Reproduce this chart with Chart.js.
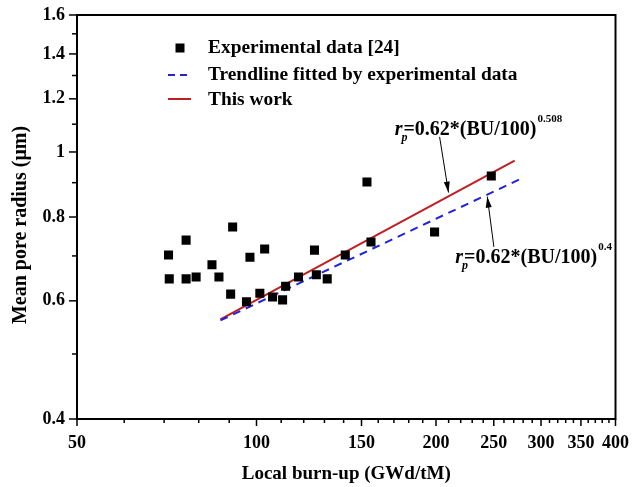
<!DOCTYPE html>
<html>
<head>
<meta charset="utf-8">
<script src="https://cdn.jsdelivr.net/npm/chart.js@4.4.0/dist/chart.umd.min.js"></script>
<style>
  html, body { margin: 0; padding: 0; background: #fff; }
</style>
</head>
<body>
<canvas id="pores" width="635" height="487"></canvas>
<script>
// experimental points (burn-up GWd/tM, mean pore radius um)
const burnup = [71.2, 71.4, 76.2, 76.2, 79.2, 84.2, 86.5, 91.2, 90.5, 97.5, 103.2, 96.2, 101.3,
  106.4, 110.6, 111.9, 117.6, 125.1, 126.0, 131.4, 140.9, 153.2, 155.6, 198.9, 247.6];
const radius = [0.702, 0.647, 0.739, 0.647, 0.651, 0.679, 0.651, 0.773, 0.614, 0.697, 0.717, 0.598, 0.616,
  0.608, 0.602, 0.631, 0.651, 0.714, 0.656, 0.647, 0.702, 0.902, 0.734, 0.760, 0.921];

// line end points
const trendX = [87, 276];
const trendY = [0.561, 0.910];
const modelX = [87, 271];
const modelY = [0.563, 0.971];

const xTicks = [50, 60, 70, 80, 90, 100, 110, 120, 130, 140, 150, 160, 170, 180, 190, 200,
  210, 220, 230, 240, 250, 260, 270, 280, 290, 300, 310, 320, 330, 340, 350, 360, 370, 380, 390, 400];
const xLabels = [50, 100, 150, 200, 250, 300, 350, 400];
const yTicks = [0.4, 0.5, 0.6, 0.7, 0.8, 0.9, 1, 1.1, 1.2, 1.3, 1.4, 1.5, 1.6];
const yLabels = [0.4, 0.6, 0.8, 1, 1.2, 1.4, 1.6];

const legendLabels = ['Experimental data [24]', 'Trendline fitted by experimental data', 'This work'];
const yTitle = 'Mean pore radius (μm)';

// formula labels, positioned in data units
const notes = [
  { x: 170.5, y: 1.060, exp: '0.508', tail: [202.8, 1.053], tip: [209.9, 0.870] },
  { x: 215.5, y: 0.683, exp: '0.4', tail: [250.1, 0.722], tip: [243.8, 0.858] }
];

const BLUE = '#2222dd';
const RED = '#bf1e22';
const SERIF = '"Liberation Serif", "Times New Roman", serif';

const extras = {
  id: 'extras',
  afterDraw(chart) {
    const { ctx, chartArea: { left, top, right, bottom }, scales: { x, y } } = chart;
    ctx.save();
    ctx.strokeStyle = '#000';
    ctx.lineWidth = 1.5;

    xTicks.forEach(v => {
      const px = x.getPixelForValue(v);
      const len = xLabels.includes(v) ? 7 : 4;
      ctx.beginPath();
      ctx.moveTo(px, bottom);
      ctx.lineTo(px, bottom + len);
      ctx.stroke();
    });
    yTicks.forEach(v => {
      const py = y.getPixelForValue(v);
      const len = yLabels.includes(v) ? 8 : 5;
      ctx.beginPath();
      ctx.moveTo(left, py);
      ctx.lineTo(left - len, py);
      ctx.stroke();
    });

    ctx.lineWidth = 2;
    ctx.strokeRect(left, top, right - left, bottom - top);

    // y title, a bit below the middle like the original
    ctx.fillStyle = '#000';
    ctx.save();
    ctx.translate(left - 51, (top + bottom) / 2 + 8);
    ctx.rotate(-Math.PI / 2);
    ctx.font = 'bold 20px ' + SERIF;
    ctx.textAlign = 'center';
    ctx.textBaseline = 'alphabetic';
    ctx.fillText(yTitle, 0, 0);
    ctx.restore();

    // legend
    const lx = left + 91;
    const ly = top + 33;
    ctx.fillRect(lx + 12 - 4.5, ly - 4.5, 9, 9);
    ctx.strokeStyle = BLUE;
    ctx.setLineDash([7, 5]);
    ctx.beginPath();
    ctx.moveTo(lx, ly + 27);
    ctx.lineTo(lx + 23, ly + 27);
    ctx.stroke();
    ctx.setLineDash([]);
    ctx.strokeStyle = RED;
    ctx.beginPath();
    ctx.moveTo(lx, ly + 51);
    ctx.lineTo(lx + 23, ly + 51);
    ctx.stroke();
    ctx.font = 'bold 19.4px ' + SERIF;
    ctx.textBaseline = 'middle';
    legendLabels.forEach((t, i) => {
      ctx.fillText(t, lx + 40, ly + [0, 27, 52][i]);
    });

    // formulas + arrows
    ctx.textBaseline = 'alphabetic';
    notes.forEach(n => {
      let px = x.getPixelForValue(n.x);
      const py = y.getPixelForValue(n.y);
      ctx.font = 'italic bold 20px ' + SERIF;
      ctx.fillText('r', px, py);
      px += ctx.measureText('r').width;
      ctx.font = 'italic bold 12px ' + SERIF;
      ctx.fillText('p', px - 1, py + 6);
      px += 1;
      ctx.font = 'bold 20px ' + SERIF;
      ctx.fillText('=0.62*(BU/100)', px, py);
      px += ctx.measureText('=0.62*(BU/100)').width + 1;
      ctx.font = 'bold 11px ' + SERIF;
      ctx.fillText(n.exp, px, py - 13);

      const x0 = x.getPixelForValue(n.tail[0]), y0 = y.getPixelForValue(n.tail[1]);
      const x1 = x.getPixelForValue(n.tip[0]), y1 = y.getPixelForValue(n.tip[1]);
      ctx.strokeStyle = '#000';
      ctx.lineWidth = 1;
      ctx.beginPath();
      ctx.moveTo(x0, y0);
      ctx.lineTo(x1, y1);
      ctx.stroke();
      const a = Math.atan2(y1 - y0, x1 - x0);
      ctx.beginPath();
      ctx.moveTo(x1, y1);
      ctx.lineTo(x1 - 11 * Math.cos(a) + 3 * Math.sin(a), y1 - 11 * Math.sin(a) - 3 * Math.cos(a));
      ctx.lineTo(x1 - 11 * Math.cos(a) - 3 * Math.sin(a), y1 - 11 * Math.sin(a) + 3 * Math.cos(a));
      ctx.closePath();
      ctx.fill();
    });
    ctx.restore();
  }
};

const tickFont = { family: SERIF, size: 18, weight: 'bold' };
const titleFont = { family: SERIF, size: 19, weight: 'bold' };

new Chart(document.getElementById('pores'), {
  type: 'scatter',
  plugins: [extras],
  data: {
    datasets: [
      {
        label: legendLabels[0],
        data: burnup.map((b, i) => ({ x: b, y: radius[i] })),
        pointStyle: 'rect',
        pointRadius: 6.4,
        backgroundColor: '#000',
        borderColor: '#000',
        borderWidth: 0
      },
      {
        label: legendLabels[1],
        type: 'line',
        data: trendX.map((b, i) => ({ x: b, y: trendY[i] })),
        borderColor: BLUE,
        borderWidth: 2,
        borderDash: [8, 6],
        pointRadius: 0,
        fill: false
      },
      {
        label: legendLabels[2],
        type: 'line',
        data: modelX.map((b, i) => ({ x: b, y: modelY[i] })),
        borderColor: RED,
        borderWidth: 2,
        pointRadius: 0,
        fill: false
      }
    ]
  },
  options: {
    responsive: false,
    animation: false,
    layout: { padding: { left: 0, right: 15, top: 15, bottom: 0 } },
    plugins: {
      legend: { display: false },
      tooltip: { enabled: false }
    },
    scales: {
      x: {
        type: 'logarithmic',
        min: 50,
        max: 400,
        afterBuildTicks: s => { s.ticks = xTicks.map(v => ({ value: v })); },
        afterFit: s => { s.height = 68; },
        grid: { display: false, drawTicks: true, tickLength: 8 },
        border: { display: false },
        ticks: {
          autoSkip: false,
          maxRotation: 0,
          padding: 6,
          color: '#000',
          font: tickFont,
          callback: v => xLabels.includes(v) ? String(v) : ''
        },
        title: {
          display: true,
          text: 'Local burn-up (GWd/tM)',
          color: '#000',
          font: titleFont,
          padding: { top: 0, bottom: 2 }
        }
      },
      y: {
        type: 'logarithmic',
        min: 0.4,
        max: 1.6,
        afterBuildTicks: s => { s.ticks = yTicks.map(v => ({ value: v })); },
        afterFit: s => { s.width = 77; },
        grid: { display: false, drawTicks: true, tickLength: 8 },
        border: { display: false },
        ticks: {
          autoSkip: false,
          padding: 4,
          color: '#000',
          font: tickFont,
          callback: v => yLabels.includes(v) ? String(v) : ''
        }
      }
    }
  }
});
</script>
</body>
</html>
